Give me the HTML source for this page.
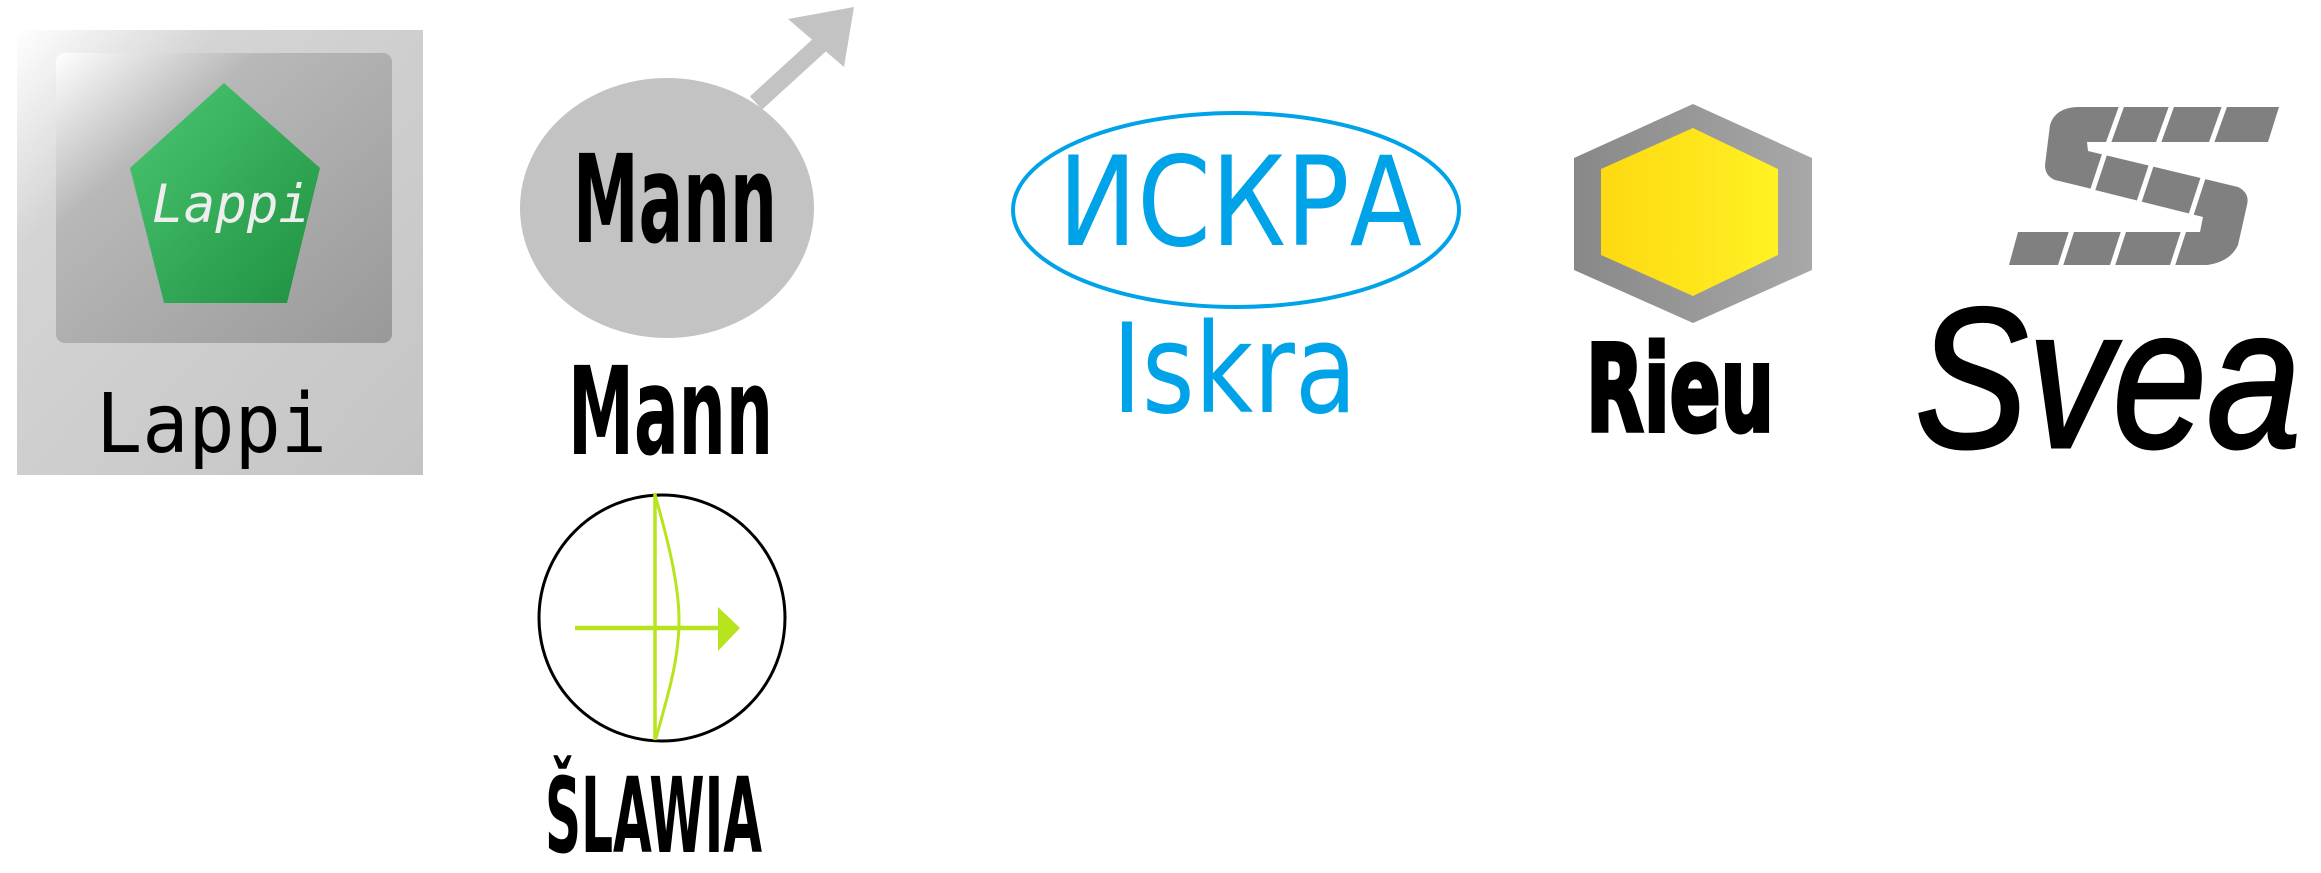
<!DOCTYPE html>
<html><head><meta charset="utf-8"><style>html,body{margin:0;padding:0;background:#fff}svg{display:block}</style></head>
<body>
<svg width="2321" height="873" viewBox="0 0 2321 873" xmlns="http://www.w3.org/2000/svg">
<defs>
<linearGradient id="gOut" x1="0" y1="0" x2="1" y2="1">
<stop offset="0" stop-color="#ffffff"/><stop offset="0.25" stop-color="#d4d4d4"/><stop offset="1" stop-color="#c4c4c4"/></linearGradient>
<linearGradient id="gIn" x1="0" y1="0" x2="1" y2="1">
<stop offset="0" stop-color="#ffffff"/><stop offset="0.3" stop-color="#b8b8b8"/><stop offset="1" stop-color="#999999"/></linearGradient>
<linearGradient id="gPent" x1="0" y1="0" x2="1" y2="1">
<stop offset="0" stop-color="#4cc774"/><stop offset="1" stop-color="#1e9140"/></linearGradient>
<linearGradient id="gHex" x1="0" y1="0" x2="1" y2="0">
<stop offset="0" stop-color="#888"/><stop offset="1" stop-color="#a8a8a8"/></linearGradient>
<linearGradient id="gYel" x1="0" y1="0" x2="1" y2="0">
<stop offset="0" stop-color="#fdd912"/><stop offset="1" stop-color="#fff123"/></linearGradient>
</defs>

<!-- Lappi -->
<rect x="17" y="30" width="406" height="445" fill="url(#gOut)"/>
<rect x="56" y="53" width="336" height="290" rx="9" fill="url(#gIn)"/>
<polygon points="224,83 320,168 287,303 164,303 130,168" fill="url(#gPent)"/>
<text x="152" y="222" font-family="DejaVu Sans Mono, Liberation Mono, monospace" font-style="italic" font-size="53" fill="#eeeeee" textLength="158" lengthAdjust="spacingAndGlyphs">Lappi</text>
<text x="96" y="452" font-family="DejaVu Sans Mono, Liberation Mono, monospace" font-size="82" fill="#000" textLength="231" lengthAdjust="spacingAndGlyphs">Lappi</text>

<!-- Mann -->
<line x1="756" y1="103" x2="825" y2="40" stroke="#c3c3c3" stroke-width="18"/>
<polygon points="788,19 854,7 844,67" fill="#c3c3c3"/>
<ellipse cx="667" cy="208" rx="147" ry="130" fill="#c3c3c3"/>
<text x="573" y="242" font-family="DejaVu Sans Condensed, DejaVu Sans, sans-serif" font-weight="bold" font-size="122" fill="#000" textLength="204" lengthAdjust="spacingAndGlyphs">Mann</text>
<text x="568" y="454" font-family="DejaVu Sans Condensed, DejaVu Sans, sans-serif" font-weight="bold" font-size="122" fill="#000" textLength="205" lengthAdjust="spacingAndGlyphs">Mann</text>

<!-- Slawia -->
<circle cx="662" cy="618" r="123" fill="none" stroke="#000" stroke-width="3"/>
<line x1="655" y1="493" x2="655" y2="740" stroke="#b7e41c" stroke-width="3.5"/>
<path d="M655,495 C668,540 679,585 679,620 C679,660 668,695 656,738" fill="none" stroke="#b7e41c" stroke-width="3"/>
<line x1="575" y1="628" x2="722" y2="628" stroke="#b7e41c" stroke-width="4.5"/>
<polygon points="718,607 740,628 718,651" fill="#b7e41c"/>
<text x="545" y="852" font-family="DejaVu Sans Condensed, DejaVu Sans, sans-serif" font-weight="bold" font-size="104" fill="#000" textLength="217" lengthAdjust="spacingAndGlyphs">ŠLAWIA</text>

<!-- Iskra -->
<ellipse cx="1236" cy="210" rx="223" ry="97" fill="none" stroke="#00a2e8" stroke-width="4"/>
<text x="1058" y="245" font-family="DejaVu Sans, Liberation Sans, sans-serif" font-size="124" fill="#00a2e8" textLength="364" lengthAdjust="spacingAndGlyphs">ИСКРА</text>
<text x="1112" y="412" font-family="DejaVu Sans, Liberation Sans, sans-serif" font-size="124" fill="#00a2e8" textLength="245" lengthAdjust="spacingAndGlyphs">Iskra</text>

<!-- Rieu -->
<polygon points="1693,104 1812,158 1812,270 1693,323 1574,270 1574,158" fill="url(#gHex)"/>
<polygon points="1693,128 1778,169 1778,255 1693,296 1601,255 1601,169" fill="url(#gYel)"/>
<text x="1586" y="431" font-family="DejaVu Sans Condensed, DejaVu Sans, sans-serif" font-weight="bold" font-size="120" fill="#000" stroke="#000" stroke-width="4" textLength="188" lengthAdjust="spacingAndGlyphs">Rieu</text>

<!-- Svea -->
<path d="M2077,107 L2279,107 L2268,142 L2087,142 L2088,151 L2238,187 Q2250,193 2247,205 L2238,245 Q2230,262 2207,265 L2009,265 L2018,232 L2200,232 L2203,217 L2095,190 L2088,188 L2055,180 Q2045,176 2045,165 L2050,125 Q2055,108 2077,107 Z" fill="#808080"/>
<g stroke="#fff" stroke-width="5">
<line x1="2122" y1="105" x2="2108" y2="144"/>
<line x1="2172" y1="105" x2="2158" y2="144"/>
<line x1="2225" y1="105" x2="2211" y2="144"/>
<line x1="2106" y1="150" x2="2092" y2="192"/>
<line x1="2153" y1="160" x2="2139" y2="202"/>
<line x1="2205" y1="172" x2="2190" y2="218"/>
<line x1="2072" y1="230" x2="2060" y2="267"/>
<line x1="2124" y1="230" x2="2112" y2="267"/>
<line x1="2184" y1="230" x2="2172" y2="267"/>
</g>
<text x="1915" y="447" font-family="Liberation Sans, DejaVu Sans, sans-serif" font-style="italic" font-size="200" fill="#000" stroke="#000" stroke-width="3" textLength="386" lengthAdjust="spacingAndGlyphs">Svea</text>
</svg>
</body></html>
